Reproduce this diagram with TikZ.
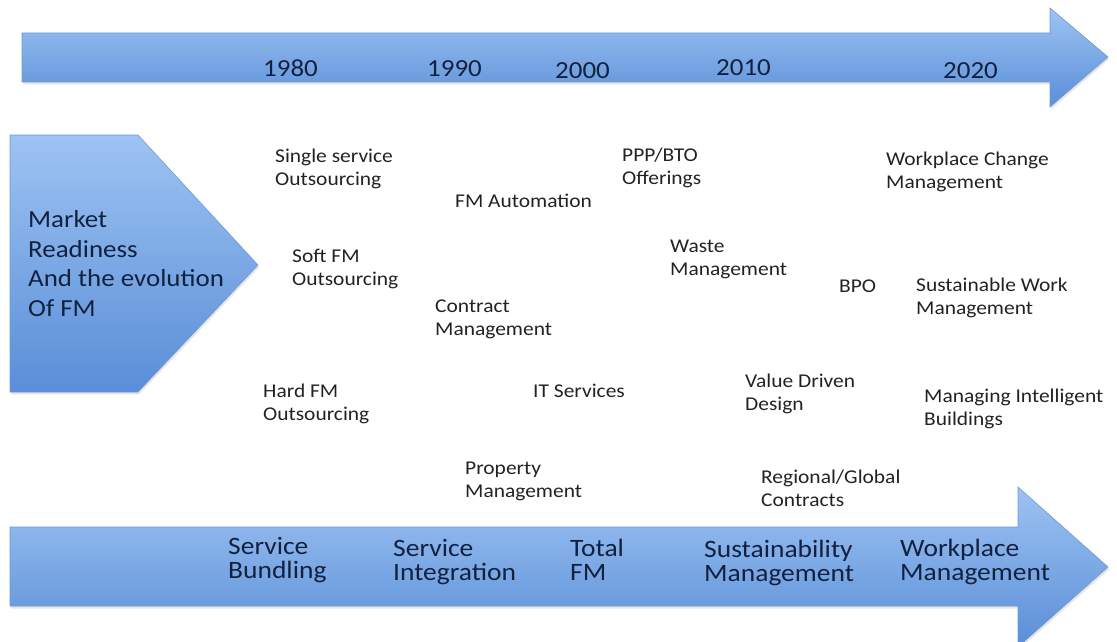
\documentclass[tikz,border=0pt]{standalone}
\usepackage{fontspec}
\setmainfont[FakeStretch=1.1]{Carlito}
\usetikzlibrary{shadows}

\definecolor{arrowtop}{HTML}{9DC3F2}
\definecolor{arrowbot}{HTML}{5A8ED8}
\definecolor{arrowedge}{HTML}{6E9AD6}
\definecolor{navy}{HTML}{12213F}
\definecolor{ink}{HTML}{222222}

\tikzset{
  bluearrow/.style={draw=arrowedge,line width=0.6pt,top color=arrowtop,bottom color=arrowbot,
    drop shadow={opacity=0.2,shadow xshift=1pt,shadow yshift=-2.5pt}},
  yearlbl/.style={anchor=base west,inner sep=0pt,text=navy,font=\fontsize{24.5}{29}\selectfont},
  stagelbl/.style={anchor=base west,inner sep=0pt,align=left,text=navy,font=\fontsize{25}{23.5}\selectfont},
  itemlbl/.style={anchor=base west,inner sep=0pt,align=left,text=ink,font=\fontsize{19.5}{22.5}\selectfont}
}

\begin{document}
\begin{tikzpicture}[x=1pt,y=-1pt]
    \useasboundingbox (0,0) rectangle (1117,642);
    % timeline arrows and the side pentagon
    \path[bluearrow] (22,33)--(1050,33)--(1050,8)--(1108,57)--(1050,107)--(1050,82)--(22,82)--cycle;
    \path[bluearrow] (10,135)--(138,135)--(258,265)--(138,392)--(10,392)--cycle;
    \path[bluearrow] (10,527)--(1018,527)--(1018,487)--(1108,567)--(1018,647)--(1018,606)--(10,606)--cycle;
    % years
    \node[yearlbl] (y1980) at (263,77) {1980};
    \node[yearlbl] (y1990) at (427,77) {1990};
    \node[yearlbl] (y2000) at (555,79) {2000};
    \node[yearlbl] (y2010) at (716,76) {2010};
    \node[yearlbl] (y2020) at (943,78) {2020};
    % pentagon text (base = last line)
    \node[anchor=base west,inner sep=0pt,align=left,text=navy,font=\fontsize{24.5}{29.5}\selectfont] (market) at (28,316)
        {Market\\Readiness\\And the evolution\\Of FM};
    % services
    \node[itemlbl] (single) at (275,185) {Single service\\Outsourcing};
    \node[itemlbl] (fmauto) at (455,207) {FM Automation};
    \node[itemlbl] (softfm) at (292,285) {Soft FM\\Outsourcing};
    \node[itemlbl] (contract) at (435,335) {Contract\\Management};
    \node[itemlbl] (hardfm) at (263,420) {Hard FM\\Outsourcing};
    \node[itemlbl] (itserv) at (533,397) {IT Services};
    \node[itemlbl] (property) at (465,497) {Property\\Management};
    \node[itemlbl] (ppp) at (622,184) {PPP/BTO\\Offerings};
    \node[itemlbl] (waste) at (670,275) {Waste\\Management};
    \node[itemlbl] (value) at (745,410) {Value Driven\\Design};
    \node[itemlbl] (regional) at (761,506) {Regional/Global\\Contracts};
    \node[itemlbl] (bpo) at (839,292) {BPO};
    \node[itemlbl] (wpchange) at (886,188) {Workplace Change\\Management};
    \node[itemlbl] (sustwork) at (916,314) {Sustainable Work\\Management};
    \node[itemlbl] (intell) at (924,425) {Managing Intelligent\\Buildings};
    % stages
    \node[stagelbl] (bundling) at (228,578) {Service\\Bundling};
    \node[stagelbl] (integration) at (393,580) {Service\\Integration};
    \node[stagelbl] (totalfm) at (570,580) {Total\\FM};
    \node[stagelbl] (sustmgmt) at (704,581) {Sustainability\\Management};
    \node[stagelbl] (wpmgmt) at (900,580) {Workplace\\Management};
\end{tikzpicture}
\end{document}
